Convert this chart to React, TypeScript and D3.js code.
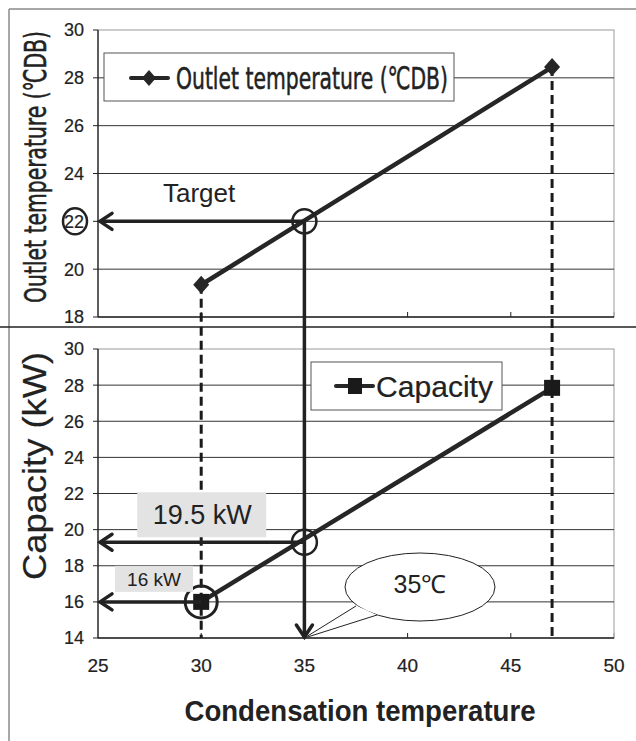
import React from "react";
import * as d3 from "d3";

// ---- data ----
const condTemps = [30, 47];
const outletTemps = [19.35, 28.45];
const capacities = [16.0, 27.85];
const xTicks = [25, 30, 35, 40, 45, 50];
const outletTicks = [18, 20, 22, 24, 26, 28, 30];
const capacityTicks = [14, 16, 18, 20, 22, 24, 26, 28, 30];
const targetCond = 35;
const targetOutlet = 22;
const targetCapacity = 19.3;
const minCapacity = 16;
const outletLegend = "Outlet temperature (℃DB)";
const capacityLegend = "Capacity";
const outletAxisTitle = "Outlet temperature (℃DB)";
const capacityAxisTitle = "Capacity (kW)";
const xAxisTitle = "Condensation temperature";
const targetLabel = "Target";
const capLabel = "19.5 kW";
const minCapLabel = "16 kW";
const calloutLabel = "35℃";

const W = 636;
const H = 741;
const SANS = "'Liberation Sans', Arial, Helvetica, sans-serif";
const NARROW = "'Liberation Sans Narrow', 'Arial Narrow', 'DejaVu Sans Condensed', sans-serif";
const INK = "#222";

const x = d3.scaleLinear().domain([25, 50]).range([98, 614]);
const yTop = d3.scaleLinear().domain([18, 30]).range([317, 30]);
const yBot = d3.scaleLinear().domain([14, 30]).range([638, 349]);

function Chevron({ x0, y0, dir }: { x0: number; y0: number; dir: "left" | "down" }) {
  const a = 12, b = 8;
  const d =
    dir === "left"
      ? `M${x0 + a},${y0 - b} L${x0},${y0} L${x0 + a},${y0 + b}`
      : `M${x0 - b},${y0 - a} L${x0},${y0} L${x0 + b},${y0 - a}`;
  return <path d={d} fill="none" stroke={INK} strokeWidth={3.5} strokeLinecap="round" strokeLinejoin="miter" />;
}

function Panel({ y, ticks, yTitle, titleLen, titleY }: { y: d3.ScaleLinear<number, number>; ticks: number[]; yTitle: string; titleLen: number; titleY: number }) {
  const [y0, y1] = y.range();
  const [x0, x1] = x.range();
  const isTop = y === yTop;
  return (
    <g>
      <rect x={x0} y={y1} width={x1 - x0} height={y0 - y1} fill="white" stroke="#9a9a9a" strokeWidth={1} />
      {ticks.slice(1, -1).map((t) => (
        <line key={"g" + t} x1={x0} x2={x1} y1={y(t)} y2={y(t)} stroke="#333" strokeWidth={1} />
      ))}
      {ticks.map((t) => (
        <g key={"t" + t}>
          <line x1={x0 - 5} x2={x0} y1={y(t)} y2={y(t)} stroke={INK} strokeWidth={1} />
          <text x={84} y={y(t)} dy="0.36em" textAnchor="end" fontFamily={SANS} fontSize={18} fill={INK} stroke={INK} strokeWidth={0.2}>
            {t}
          </text>
        </g>
      ))}
      {xTicks.slice(1, -1).map((t) => (
        <line key={"xt" + t} x1={x(t)} x2={x(t)} y1={y0} y2={y0 - 5} stroke={INK} strokeWidth={1} />
      ))}
      <line x1={x1} x2={x1} y1={y0} y2={y0 - 5} stroke="#9a9a9a" strokeWidth={1} />
      <line x1={x0} x2={x0} y1={y1} y2={y0} stroke={INK} strokeWidth={1.3} />
      <line x1={x0} x2={x1} y1={y0} y2={y0} stroke={INK} strokeWidth={1.3} />
      <text
        transform={`translate(46,${titleY}) rotate(-90)`}
        textAnchor="middle"
        fontFamily={isTop ? NARROW : SANS}
        fontSize={isTop ? 31 : 33}
        fill={INK}
        stroke={INK}
        strokeWidth={isTop ? 0.5 : 0.2}
        textLength={titleLen}
        lengthAdjust="spacingAndGlyphs"
      >
        {yTitle}
      </text>
    </g>
  );
}

export default function App() {
  const line = d3.line<[number, number]>().x((d) => d[0]).y((d) => d[1]);
  const topPts: [number, number][] = condTemps.map((c, i) => [x(c), yTop(outletTemps[i])]);
  const botPts: [number, number][] = condTemps.map((c, i) => [x(c), yBot(capacities[i])]);
  const tx = x(targetCond);
  const tyTop = yTop(targetOutlet);
  const tyBot = yBot(targetCapacity);
  const arrowEndX = x(25) + 2;
  const cx = 420, cy = 587;

  return (
    <svg width={W} height={H} style={{ position: "absolute", left: 0, top: 0, background: "white" }}>
      {/* outer frame */}
      <line x1={9} x2={W} y1={9} y2={9} stroke="#8a8a8a" strokeWidth={1.5} />
      <line x1={9} x2={9} y1={9} y2={H} stroke="#8a8a8a" strokeWidth={1.5} />

      <Panel y={yTop} ticks={outletTicks} yTitle={outletAxisTitle} titleLen={272} titleY={167} />
      <Panel y={yBot} ticks={capacityTicks} yTitle={capacityAxisTitle} titleLen={228} titleY={466} />

      <line x1={0} x2={W} y1={327} y2={327} stroke="#222" strokeWidth={1.3} />

      {/* dashed drop lines */}
      {condTemps.map((c, i) => (
        <line key={"d" + c} x1={x(c)} x2={x(c)} y1={yTop(outletTemps[i])} y2={yBot(14)} stroke="#1a1a1a" strokeWidth={3} strokeDasharray="9,5" />
      ))}

      {/* series lines */}
      <path d={line(topPts) || ""} fill="none" stroke="#262626" strokeWidth={4.5} />
      <path d={line(botPts) || ""} fill="none" stroke="#262626" strokeWidth={4.5} />
      {topPts.map(([px, py], i) => (
        <path key={"dm" + i} d={`M${px},${py - 9} L${px + 8},${py} L${px},${py + 9} L${px - 8},${py} Z`} fill="#262626" />
      ))}
      {botPts.map(([px, py], i) => (
        <rect key={"sq" + i} x={px - 8} y={py - 8} width={16} height={16} fill="#1a1a1a" />
      ))}

      {/* legends */}
      <rect x={104} y={53} width={350} height={48} fill="white" stroke="#555" strokeWidth={1} />
      <line x1={131} x2={168} y1={78} y2={78} stroke="#262626" strokeWidth={4} strokeLinecap="round" />
      <path d={`M149,70 L156,78 L149,86 L142,78 Z`} fill="#262626" />
      <text x={176} y={89} fontFamily={NARROW} fontSize={31} fill={INK} stroke={INK} strokeWidth={0.5} textLength={272} lengthAdjust="spacingAndGlyphs">
        {outletLegend}
      </text>

      <rect x={311} y={362} width={191} height={48} fill="white" stroke="#555" strokeWidth={1} />
      <line x1={336} x2={373} y1={386} y2={386} stroke="#262626" strokeWidth={4} strokeLinecap="round" />
      <rect x={348} y={378} width={14} height={16} fill="#1a1a1a" />
      <text x={376} y={397} fontFamily={SANS} fontSize={29} fill={INK} stroke={INK} strokeWidth={0.2} textLength={117} lengthAdjust="spacingAndGlyphs">
        {capacityLegend}
      </text>

      {/* target annotations */}
      <line x1={tx} x2={arrowEndX} y1={tyTop} y2={tyTop} stroke={INK} strokeWidth={3.5} />
      <Chevron x0={arrowEndX} y0={tyTop} dir="left" />
      <line x1={tx} x2={tx} y1={tyTop} y2={yBot(14) - 1} stroke={INK} strokeWidth={3.5} />
      <Chevron x0={tx} y0={yBot(14) - 1} dir="down" />
      <line x1={tx} x2={arrowEndX} y1={tyBot} y2={tyBot} stroke={INK} strokeWidth={3.5} />
      <Chevron x0={arrowEndX} y0={tyBot} dir="left" />
      <line x1={x(condTemps[0])} x2={arrowEndX} y1={yBot(minCapacity)} y2={yBot(minCapacity)} stroke={INK} strokeWidth={3.5} />
      <Chevron x0={arrowEndX} y0={yBot(minCapacity)} dir="left" />

      <text x={163} y={202} fontFamily={SANS} fontSize={26} fill={INK}>
        {targetLabel}
      </text>
      <ellipse cx={75} cy={tyTop} rx={12} ry={13} fill="none" stroke={INK} strokeWidth={2.5} />
      <circle cx={tx} cy={tyTop} r={12} fill="none" stroke={INK} strokeWidth={2.5} />
      <circle cx={tx} cy={tyBot} r={12.5} fill="none" stroke={INK} strokeWidth={2.5} />
      <circle cx={x(condTemps[0])} cy={yBot(minCapacity)} r={16} fill="none" stroke={INK} strokeWidth={3} />

      {/* value boxes */}
      <rect x={x(30) - 64} y={tyBot - 50} width={129} height={45} fill="#e3e3e3" />
      <text x={x(30) + 1} y={tyBot - 18} textAnchor="middle" fontFamily={SANS} fontSize={27} fill={INK}>
        {capLabel}
      </text>
      <rect x={115} y={yBot(minCapacity) - 36} width={78} height={26} fill="#e3e3e3" />
      <text x={154} y={yBot(minCapacity) - 16} textAnchor="middle" fontFamily={SANS} fontSize={19} fill={INK}>
        {minCapLabel}
      </text>

      {/* callout */}
      <ellipse cx={cx} cy={cy} rx={75} ry={34} fill="white" stroke={INK} strokeWidth={1} />
      <path d={`M355,605 L${tx},${yBot(14)} L377,615 Z`} fill="white" stroke="none" />
      <path d={`M356,606 L${tx},${yBot(14)} L377,615`} fill="none" stroke={INK} strokeWidth={1} />
      <text x={cx} y={cy + 6} textAnchor="middle" fontFamily={SANS} fontSize={25} fill={INK}>
        {calloutLabel}
      </text>

      {/* x axis labels */}
      {xTicks.map((t) => (
        <text key={"xl" + t} x={x(t)} y={672} textAnchor="middle" fontFamily={SANS} fontSize={19} fill={INK} stroke={INK} strokeWidth={0.2}>
          {t}
        </text>
      ))}
      <text x={360} y={721} textAnchor="middle" fontFamily={SANS} fontWeight="bold" fontSize={29} fill={INK} textLength={351} lengthAdjust="spacingAndGlyphs">
        {xAxisTitle}
      </text>
    </svg>
  );
}
